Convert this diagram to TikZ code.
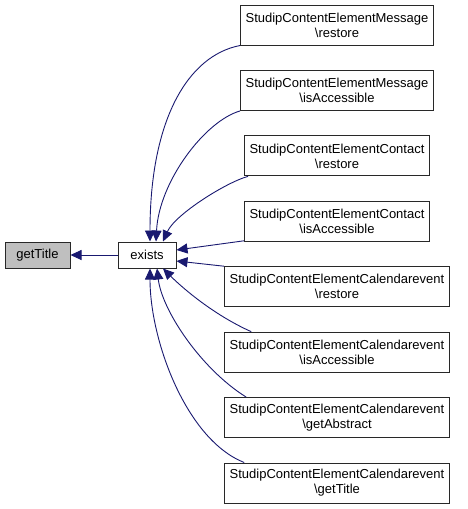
\documentclass[tikz,border=0pt]{standalone}
\usepackage{fontspec}
\setmainfont{Liberation Sans}
\usetikzlibrary{arrows.meta,positioning}
\definecolor{callink}{RGB}{25,25,112}
\definecolor{nodegray}{RGB}{191,191,191}
\definecolor{frame}{RGB}{40,40,40}
\tikzset{
  >={Triangle[length=11pt,width=10pt]},
  fn/.style={draw=frame,line width=1pt,fill=#1,inner xsep=5pt,inner ysep=2pt,
    minimum height=26pt,align=center,font=\fontsize{13pt}{15pt}\selectfont},
  fn/.default=white,
  caller/.style={fn,minimum height=40pt},
  calledge/.style={->,draw=callink,line width=0.9pt},
}

\begin{document}
\begin{tikzpicture}[x=1pt,y=-1pt]
  \useasboundingbox (0,0) rectangle (467,509);
  \node[fn=nodegray,minimum width=65pt] (gt) at (37.5,255) {getTitle};
  \node[fn,minimum width=58pt] (ex) at (147,255) {exists};
  \foreach \cls/\mth [count=\i from 1] in {
    Message/restore, Message/isAccessible,
    Contact/restore, Contact/isAccessible,
    Calendarevent/restore, Calendarevent/isAccessible,
    Calendarevent/getAbstract, Calendarevent/getTitle}
  {
    \pgfmathsetmacro{\y}{25+65.43*(\i-1)}
    \node[caller] (c\i) at (337,\y) {StudipContentElement\cls\\\textbackslash\mth};
  }
  % edges into exists
  \draw[calledge] (ex) -- (gt);
  \draw[calledge] (c1.south west) .. controls +(-52,10) and +(0,-122) .. ([xshift=3pt]ex.north);
  \draw[calledge] (c2.south west) .. controls +(-35,10) and +(3,-60) .. ([xshift=9pt]ex.north);
  \draw[calledge] ([xshift=4pt]c3.south west) .. controls +(-22,6) and +(12,-27) .. ([xshift=16pt]ex.north);
  \draw[calledge] ([yshift=1pt]c4.south west) -- ([yshift=5pt]ex.east);
  \draw[calledge] (c5.north west) -- ([yshift=-6pt]ex.east);
  \draw[calledge] ([xshift=27pt]c6.north west) .. controls +(-40,-18) and +(17,17) .. ([xshift=16pt]ex.south);
  \draw[calledge] ([xshift=22pt]c7.north west) .. controls +(-45,-28) and +(5,42) .. ([xshift=10pt]ex.south);
  \draw[calledge] ([xshift=20pt]c8.north west) .. controls +(-58,-23) and +(0,72) .. ([xshift=3pt]ex.south);
\end{tikzpicture}
\end{document}
